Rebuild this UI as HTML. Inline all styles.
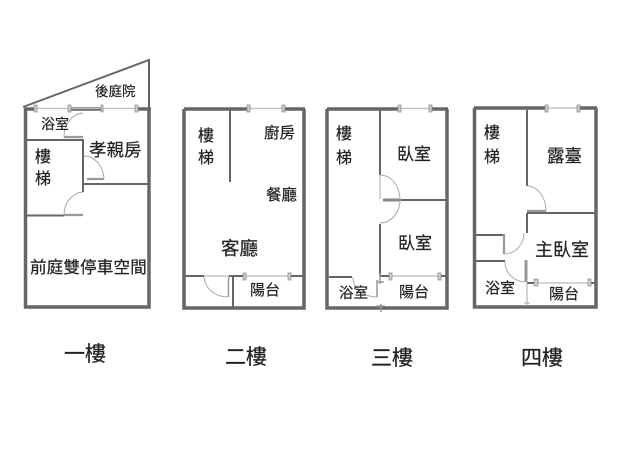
<!DOCTYPE html>
<html><head><meta charset="utf-8"><style>
html,body{margin:0;padding:0;background:#fff}
svg{display:block;filter:blur(.3px)}
text{font-family:"Liberation Sans","Noto Sans CJK TC",sans-serif;fill:#222;stroke:#222;stroke-width:.2}
.w{stroke:#666;stroke-width:3.5;fill:none}
.m{stroke:#666;stroke-width:2;fill:none}
.l{stroke:#bbb;stroke-width:1.2;fill:none}
.d{stroke:#aaa;stroke-width:1;fill:none}
.k{stroke:#999;stroke-width:2.2;fill:none}
.t{fill:#ccc;stroke:#888;stroke-width:.7}
</style></head><body>
<svg width="638" height="460" viewBox="0 0 638 460" xmlns="http://www.w3.org/2000/svg">
<!-- 1F -->
<path class="m" d="M23 107L149 60V108"/>
<path class="w" d="M25.500 108V307H149V108"/>
<path class="w" d="M24 109H36M70 109H101M137 109H151"/>
<path class="l" d="M36 108.500H137"/>
<rect class="t" x="34" y="105" width="3" height="7"/><rect class="t" x="68" y="105" width="3" height="7"/><rect class="t" x="101" y="105" width="2" height="7"/><rect class="t" x="135" y="105" width="3" height="7"/>
<path class="m" d="M27 140H83V192M83 184H149M27 215.500H64"/>
<path class="k" d="M64 137H83M64 215H83M87 179H104"/>
<path class="d" d="M83 113A20 24 0 0 0 64 137M84 156A20 24 0 0 1 104 179M83 192A20 23 0 0 0 64 215"/>
<!-- 2F -->
<path class="w" d="M184 109H248M283 109H305M184 109V308H304V109"/>
<path class="l" d="M248 108.500H283"/>
<rect class="t" x="247" y="105" width="3" height="7"/><rect class="t" x="282" y="105" width="3" height="7"/>
<path class="m" d="M230 110V182M185 276H204M229 276H243M290 276H303M233 276V307"/>
<path class="l" d="M204 276H229M243 276H290"/>
<rect class="t" x="243" y="273" width="3" height="7"/><rect class="t" x="288" y="273" width="3" height="7"/>
<path class="k" d="M228.500 277V297" style="stroke-width:1.500"/>
<path class="d" d="M204 277A24 21 0 0 0 228 297"/>
<!-- 3F -->
<path class="w" d="M327 109H399M430 109H448M327 109V308H447V109"/>
<path class="l" d="M399 108.500H430"/>
<rect class="t" x="398" y="105" width="3" height="7"/><rect class="t" x="429" y="105" width="3" height="7"/>
<path class="m" d="M380 110V175M400 200H447M380 224V276M329 277H352M380 276H390M439 276H446"/>
<path class="k" d="M383 200H401" style="stroke-width:3;stroke:#888"/>
<path class="l" d="M390 276H439"/>
<rect class="t" x="389" y="273" width="3" height="7"/><rect class="t" x="438" y="273" width="3" height="7"/>
<path class="d" d="M380 175A20 25 0 0 1 400 200A20 23 0 0 1 380 223M353 277A24 20 0 0 0 377 297M380 175V199"/>
<path class="k" d="M377 280V297M380 273V284M381 304V312M377 282H384M377 306H385" style="stroke-width:1.500"/>
<!-- 4F -->
<path class="w" d="M474 108H546M578 108H597M474.500 108V307H596V108"/>
<path class="l" d="M546 108H578"/>
<rect class="t" x="545" y="105" width="3" height="7"/><rect class="t" x="577" y="105" width="3" height="7"/>
<path class="m" d="M527 110V186M527 213H596M527 213V233M476 235H503M476 261H505M527 283H535M590 283H595"/>
<path class="l" d="M535 283H590"/>
<rect class="t" x="534" y="279" width="4" height="7"/><rect class="t" x="588" y="279" width="3" height="7"/>
<path class="k" d="M527 211H546M504 234V254"/>
<path class="k" d="M526 260V282" style="stroke-width:3"/>
<path class="d" d="M527 186A19 25 0 0 1 546 211M524 233A20 21 0 0 1 504 254M505 262A21 20 0 0 0 526 282M527 283V305M524 303H530"/>
<!-- labels -->
<g font-size="13.500"><text x="95" y="96">後庭院</text></g>
<g font-size="14"><text x="41" y="129">浴室</text></g>
<g font-size="17.500"><text x="89" y="156">孝親房</text></g>
<g font-size="16"><text x="35" y="162">樓</text><text x="35" y="184">梯</text></g>
<text x="30" y="273" font-size="16.700">前庭雙停車空間</text>

<g font-size="16"><text x="198" y="141">樓</text><text x="198" y="163">梯</text></g>
<g font-size="15.500"><text x="264" y="138">廚房</text><text x="266" y="200">餐廳</text></g>
<text x="221" y="255" font-size="18.500">客廳</text>
<text x="250" y="295" font-size="15">陽台</text>

<g font-size="16"><text x="336" y="139">樓</text><text x="336" y="163">梯</text></g>
<text x="397" y="160" font-size="17">臥室</text>
<text x="398" y="249" font-size="17">臥室</text>
<text x="339" y="298" font-size="14.500">浴室</text>
<text x="399" y="297" font-size="15">陽台</text>

<g font-size="16"><text x="484" y="138">樓</text><text x="484" y="162">梯</text></g>
<text x="547" y="162" font-size="17.500">露臺</text>
<text x="535" y="256" font-size="18">主臥室</text>
<text x="485" y="293" font-size="15">浴室</text>
<text x="549" y="299" font-size="15">陽台</text>

<g font-size="21"><text x="64" y="361">一樓</text><text x="225" y="364">二樓</text><text x="371" y="365">三樓</text><text x="521" y="365">四樓</text></g>
</svg>
</body></html>
